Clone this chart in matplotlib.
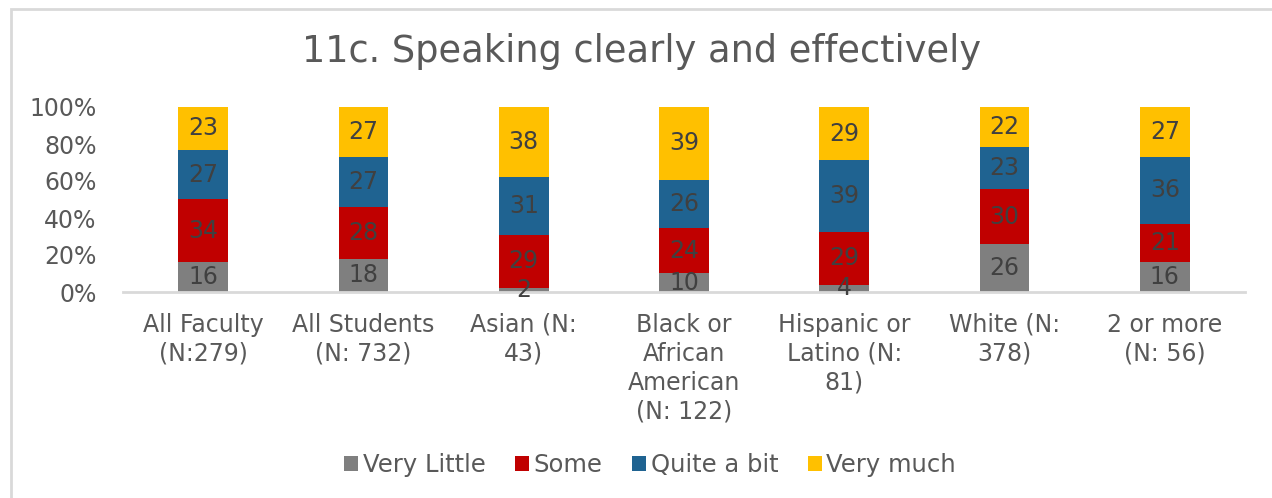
import matplotlib.pyplot as plt
import numpy as np
from matplotlib.patches import Rectangle

# survey responses, percent of each group
groups = ["All Faculty\n(N:279)", "All Students\n(N: 732)", "Asian (N:\n43)",
          "Black or\nAfrican\nAmerican\n(N: 122)", "Hispanic or\nLatino (N:\n81)",
          "White (N:\n378)", "2 or more\n(N: 56)"]
very_little = [16, 18, 2, 10, 4, 26, 16]
some = [34, 28, 29, 24, 29, 30, 21]
quite_a_bit = [27, 27, 31, 26, 39, 23, 36]
very_much = [23, 27, 38, 39, 29, 22, 27]

series = [("Very Little", very_little, "#7F7F7F"),
          ("Some", some, "#C00000"),
          ("Quite a bit", quite_a_bit, "#1F6391"),
          ("Very much", very_much, "#FFC000")]

txt = "#595959"
plt.rcParams["font.family"] = ["DejaVu Sans"]

fig = plt.figure(figsize=(12.72, 4.98), dpi=100)
fig.patches.append(Rectangle((11 / 1272, -0.1), 1.2, 1 - 9 / 498 + 0.1,
                             transform=fig.transFigure, fill=False,
                             edgecolor="#D9D9D9", linewidth=2))
ax = fig.add_axes([123 / 1272, 1 - 292 / 498, (1245 - 123) / 1272, 185 / 498])

x = np.arange(len(groups))
totals = np.sum([s[1] for s in series], axis=0)
bottom = np.zeros(len(groups))
for name, vals, color in series:
    share = np.array(vals) / totals * 100
    ax.bar(x, share, 0.31, bottom=bottom, color=color, label=name, zorder=2)
    for xi, b, h, v in zip(x, bottom, share, vals):
        ax.text(xi, b + h / 2, str(v), ha="center", va="center",
                fontsize=17, color="#404040", zorder=3)
    bottom += share

ax.set_xlim(-0.5, len(groups) - 0.5)
ax.set_ylim(0, 100)
ax.set_yticks(range(0, 101, 20))
ax.set_yticklabels([f"{v}%" for v in range(0, 101, 20)])
ax.set_xticks(x)
ax.set_xticklabels(groups, linespacing=1.26)
ax.tick_params(length=0, labelsize=17, colors=txt)
ax.tick_params(axis="x", pad=15)
ax.tick_params(axis="y", pad=19)
for side in ["top", "right", "left"]:
    ax.spines[side].set_visible(False)
ax.spines["bottom"].set_color("#D9D9D9")
ax.spines["bottom"].set_linewidth(2)

fig.text(642 / 1272, 1 - 52 / 498, "11c. Speaking clearly and effectively",
         ha="center", va="center", fontsize=26.5, color=txt)

fig.legend(*ax.get_legend_handles_labels(), loc="center",
           bbox_to_anchor=(650 / 1272, 1 - 465 / 498), ncol=4,
           frameon=False, fontsize=17.5, labelcolor=txt, handlelength=0.58,
           handleheight=0.58, handletextpad=0.2, columnspacing=1.2)

fig.savefig("out.png", dpi=100)
